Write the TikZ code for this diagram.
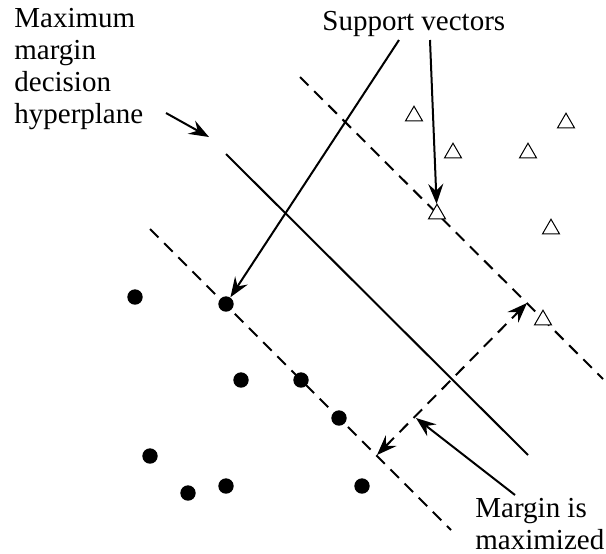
\documentclass[tikz,border=0pt]{standalone}
\usepackage{fontspec}
\setmainfont{Liberation Serif}
\usetikzlibrary{arrows.meta,shapes.geometric}

\begin{document}
\begin{tikzpicture}[x=0.5pt,y=-0.5pt,>={Stealth[length=10pt,width=7.5pt,inset=3.5pt]},
  dot/.style={circle,fill,inner sep=0pt,minimum size=7.7pt},
  tri/.style={regular polygon,regular polygon sides=3,draw,fill=white,line width=0.5pt,inner sep=0pt,minimum size=9.8pt},
  lbl/.style={font=\fontsize{14.5}{16}\selectfont,align=left,inner sep=0pt,anchor=base west},
  marg/.style={line width=1pt,dash pattern=on 6pt off 4pt}]
\useasboundingbox (0,0) rectangle (606,553);

\node[lbl] (hyp) at (14,123) {Maximum\\margin\\decision\\hyperplane};
\node[lbl] (sv) at (322,30) {Support vectors};
\node[lbl] (mrg) at (475,549) {Margin is\\maximized};

% hyperplane and margins
\coordinate (h1) at (226,154); \coordinate (h2) at (528,455);
\coordinate (u1) at (300,77);  \coordinate (u2) at (603,379);
\coordinate (l1) at (150,229); \coordinate (l2) at (451,530);
\draw[line width=1pt] (h1) -- (h2);
\draw[marg] (u1) -- (u2);
\draw[marg] (l1) -- (l2);

% class one
\node[dot] (c1) at (135,297) {};
\node[dot] (c2) at (226,304) {};
\node[dot] (c3) at (241,380) {};
\node[dot] (c4) at (301,380) {};
\node[dot] (c5) at (339,418) {};
\node[dot] (c6) at (150,456) {};
\node[dot] (c7) at (188,493) {};
\node[dot] (c8) at (226,486) {};
\node[dot] (c9) at (362,486) {};

% class two
\node[tri] (t1) at (414,116) {};
\node[tri] (t2) at (453,153) {};
\node[tri] (t3) at (528,153) {};
\node[tri] (t4) at (566,123) {};
\node[tri] (t5) at (437,214) {};
\node[tri] (t6) at (551,229) {};
\node[tri] (t7) at (543,320) {};

% arrows
\coordinate (mlo) at (377,455); \coordinate (mhi) at (527,303);
\draw[marg,<->] (mlo) -- (mhi);
\coordinate (mtail) at (515,495); \coordinate (mtip) at (416,418);
\draw[->,line width=1pt] (mtail) -- (mtip);
\coordinate (hyptail) at (166,113); \coordinate (hyptip) at (209,137);
\draw[->,line width=1pt] (hyptail) -- (hyptip);
\coordinate (sv1) at (399,40); \coordinate (sv2) at (430,40);
\draw[->,line width=1pt] (sv1) -- (c2);
\draw[->,line width=1pt] (sv2) -- (t5);
\end{tikzpicture}
\end{document}
